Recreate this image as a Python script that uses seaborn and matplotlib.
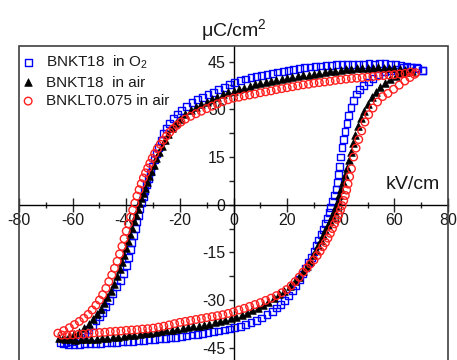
import matplotlib
matplotlib.use("Agg")
import matplotlib.pyplot as plt
import seaborn as sns
import pandas as pd
from matplotlib.patches import Rectangle
from matplotlib.ticker import MultipleLocator

# ---------------- data ----------------
labels = ["BNKT18  in O$_2$", "BNKT18  in air", "BNKLT0.075 in air"]

# BNKT18 in O2 -- upper branch (E decreasing)
o2_up_E = [70.5, 68.5, 66.5, 64.5, 62.5, 60.5, 58.5, 56.5, 54.5, 52.5, 50.5, 48.5, 46.5,
           44.5, 42.5, 40.5, 38.5, 36.5, 34.5, 32.5, 30.5, 28.5, 26.5, 24.5, 22.5, 20.5,
           18.5, 16.5, 14.5, 12.5, 10.5, 8.5, 6.5, 4.5, 2.5, 0.5, -1.5, -3.5, -5.5, -7.5,
           -9.5, -11.5, -13.5, -15.5, -17.5, -19.5, -21, -22.5, -24, -25, -26, -27, -28,
           -28.8, -29.6, -30.4, -31.1, -31.8, -32.5, -33.1, -33.7, -34.3, -34.9, -35.5,
           -36.1, -36.7, -37.3, -37.9, -38.5, -39.2, -40, -41, -42.2, -43.5, -45, -46.3,
           -47.6, -48.8, -50, -51.3, -52.6, -54, -55.5, -57, -58.7, -60.5, -62.5, -64.5]
o2_up_P = [42.3, 42.8, 43.2, 43.5, 43.8, 44, 44.2, 44.3, 44.3, 44.2, 44.3, 44.2, 44.2,
           44.1, 44.2, 44.1, 44, 43.9, 43.8, 43.6, 43.5, 43.3, 43.1, 42.9, 42.6, 42.3, 42,
           41.7, 41.3, 40.9, 40.6, 40.3, 39.9, 39.5, 39, 38.4, 37.7, 36.9, 36.1, 35.4, 34.6,
           33.8, 33.1, 32.2, 31, 29.6, 28.5, 27.1, 25.5, 24, 22.3, 20.2, 18, 16.2, 14.2,
           12.2, 10.3, 8.3, 6.4, 4.5, 2.6, 0.6, -1.3, -3.3, -5.4, -7.5, -9.6, -11.8, -14,
           -16.5, -19, -21.7, -23.8, -25.6, -28, -30, -32, -33.8, -35.2, -36.5, -37.9,
           -39.2, -40.5, -41.6, -42.5, -43, -43.3, -43.3]
# BNKT18 in O2 -- lower branch (E increasing)
o2_lo_E = [-63.5, -61.5, -59.5, -57.5, -55.5, -53.5, -51.5, -49.5, -47.5, -45.5, -43.5,
           -41.5, -39.5, -37.5, -35.5, -33.5, -31.5, -29.5, -27.5, -25.5, -23.5, -21.5,
           -19.5, -17.5, -15.5, -13.5, -11.5, -9.5, -7.5, -5.5, -3.5, -1.5, 0.5, 2.5, 4.5,
           6.5, 8.5, 10.5, 12.5, 14.5, 16, 17.5, 19, 20.5, 22, 23.3, 24.6, 25.8, 27, 28,
           29, 30, 30.9, 31.8, 32.6, 33.4, 34.2, 34.9, 35.6, 36.3, 37, 37.6, 38.2, 38.7,
           39.2, 39.6, 40, 40.5, 41, 41.6, 42.3, 43, 43.8, 44.7, 45.8, 47, 48.5, 50.2, 52,
           54, 56.3, 58.6, 61, 63.5, 66, 68.3, 70.5]
o2_lo_P = [-43.8, -43.9, -43.9, -43.9, -43.8, -43.8, -43.7, -43.6, -43.5, -43.4, -43.3,
           -43.2, -43.1, -42.9, -42.8, -42.7, -42.5, -42.3, -42.1, -42, -41.8, -41.7,
           -41.5, -41.3, -41, -40.8, -40.5, -40.2, -40, -39.7, -39.4, -39.1, -38.7, -38.2,
           -37.7, -37.1, -36.4, -35.6, -34.6, -33.5, -32.5, -31.3, -30, -28.5, -26.9,
           -25.3, -23.6, -21.8, -19.9, -18.2, -16.5, -14.7, -12.9, -11.1, -9.4, -7.8, -6,
           -4.3, -2.5, -0.8, 1.1, 2.9, 4.8, 6.9, 9.5, 12, 15, 18, 20.5, 23, 25.5, 28, 30.5,
           32.8, 34.8, 36.3, 37.5, 38.6, 39.8, 40.8, 41.7, 42.3, 42.7, 43.1, 43.3, 43.2,
           42.3]

# BNKT18 in air
air_up_E = [66, 64, 62, 60, 58, 56, 54, 52, 50, 48, 46, 44, 42, 40, 38, 36, 34, 32, 30,
            28, 26, 24, 22, 20, 18, 16, 14, 12, 10, 8, 6, 4, 2, 0, -2, -4, -6, -8, -10,
            -12, -14, -16, -18, -20, -21.5, -23, -24.4, -25.6, -26.8, -27.9, -28.9,
            -29.8, -30.6, -31.4, -32.2, -33, -33.7, -34.4, -35.1, -35.8, -36.5, -37.2,
            -37.9, -38.6, -39.3, -40, -40.8, -41.6, -42.5, -43.5, -44.6, -45.8, -47,
            -48.3, -49.6, -51, -52.5, -54, -55.7, -57.5, -59.5, -61.5, -63.5, -65]
air_up_P = [42, 42.4, 42.8, 43, 43, 43.1, 43.2, 43.1, 43, 43, 42.9, 42.7, 42.6, 42.4,
            42.2, 42, 41.8, 41.5, 41.2, 40.9, 40.7, 40.4, 40.1, 39.9, 39.6, 39.2, 38.8,
            38.5, 38.2, 37.8, 37.3, 36.8, 36.3, 35.8, 35.3, 34.7, 34, 33.2, 32.4, 31.6,
            30.7, 29.7, 28.5, 27, 25.7, 24.1, 22.3, 20.5, 18.6, 16.6, 14.6, 12.6, 10.7,
            8.9, 7.1, 5.3, 3.6, 2, 0.4, -1.3, -3.2, -5.2, -7.3, -9.3, -11.4, -13.5, -15.7,
            -17.9, -20.2, -22.5, -24.8, -27, -29, -31, -32.8, -34.5, -36.1, -37.5, -38.8,
            -39.9, -40.8, -41.4, -41.8, -42]
air_lo_E = [-63, -61, -59, -57, -55, -53, -51, -49, -47, -45, -43, -41, -39, -37, -35,
            -33, -31, -29, -27, -25, -23, -21, -19, -17, -15, -13, -11, -9, -7, -5, -3,
            -1, 1, 3, 5, 7, 9, 11, 13, 15, 17, 19, 21, 23, 24.6, 26, 27.3, 28.5, 29.6,
            30.6, 31.6, 32.5, 33.4, 34.3, 35.1, 35.9, 36.7, 37.4, 38.1, 38.8, 39.5, 40.2,
            40.9, 41.6, 42.3, 43, 43.8, 44.6, 45.5, 46.5, 47.6, 48.8, 50.1, 51.5, 53, 54.7,
            56.5, 58.5, 60.5, 62.5, 64.5, 66.5]
air_lo_P = [-42.2, -42.3, -42.4, -42.3, -42.3, -42.2, -42.1, -41.9, -41.8, -41.7, -41.5,
            -41.3, -41.1, -40.9, -40.7, -40.5, -40.3, -40, -39.8, -39.5, -39.3, -39.1,
            -38.9, -38.6, -38.3, -38, -37.7, -37.4, -37, -36.6, -36.2, -35.7, -35.2, -34.6,
            -34, -33.2, -32.4, -31.5, -30.5, -29.4, -28.2, -27, -25.6, -24.1, -22.6, -21,
            -19.3, -17.6, -15.9, -14.3, -12.7, -11.1, -9.6, -8, -6.5, -5, -3.4, -1.9, -0.3,
            1.3, 3.1, 5, 7, 9.2, 11.6, 14, 16.6, 19.3, 22, 24.7, 27.2, 29.6, 31.8, 33.8,
            35.5, 37, 38.3, 39.5, 40.5, 41.3, 41.8, 42]

# BNKLT0.075 in air
la_up_E = [68, 66, 64, 62, 60, 58, 56, 54, 52, 50, 48, 46, 44, 42, 40, 38, 36, 34, 32, 30,
           28, 26, 24, 22, 20, 18, 16, 14, 12, 10, 8, 6, 4, 2, 0, -2, -4, -6, -8, -10, -12,
           -14, -16, -18, -19.6, -21.1, -22.5, -23.8, -25, -26.2, -27.3, -28.4, -29.4,
           -30.3, -31.2, -32, -32.8, -33.6, -34.4, -35.2, -36, -36.8, -37.6, -38.4, -39.2,
           -40, -40.8, -41.6, -42.5, -43.4, -44.4, -45.4, -46.5, -47.6, -48.8, -50, -51.3,
           -52.7, -54.2, -55.8, -57.5, -59.3, -61.2, -63.3, -65.5]
la_up_P = [41.5, 41.7, 41.3, 41.1, 40.9, 40.8, 40.6, 40.5, 40.3, 40.1, 40, 39.8, 39.7,
           39.5, 39.3, 39.1, 38.8, 38.6, 38.4, 38.2, 37.9, 37.7, 37.4, 37.1, 36.8, 36.5,
           36.2, 35.8, 35.5, 35.2, 34.8, 34.5, 34.2, 33.8, 33.5, 33, 32.4, 31.7, 31, 30.2,
           29.4, 28.6, 27.8, 26.9, 26, 25, 23.9, 22.8, 21.6, 20.3, 19, 17.6, 16.1, 14.6, 13,
           11.5, 10, 8.4, 6.6, 4.7, 2.7, 0.5, -1.7, -3.9, -6, -8.3, -10.7, -13.1, -15.5,
           -17.8, -20, -22.1, -24.2, -26.3, -28.3, -30, -31.6, -33.1, -34.5, -35.7, -36.7,
           -37.7, -38.7, -39.6, -40.4]
la_lo_E = [-64, -62, -60, -58, -56, -54, -52, -50, -48, -46, -44, -42, -40, -38, -36, -34,
           -32, -30, -28, -26, -24, -22, -20, -18, -16, -14, -12, -10, -8, -6, -4, -2, 0,
           2, 4, 6, 8, 10, 12, 14, 16, 18, 19.8, 21.5, 23, 24.5, 26, 27.4, 28.7, 30, 31.2,
           32.3, 33.3, 34.3, 35.2, 36.1, 36.9, 37.7, 38.5, 39.2, 39.9, 40.5, 41.1, 41.7,
           42.2, 42.7, 43.3, 44, 44.8, 45.7, 46.7, 47.8, 49, 50.4, 52, 53.7, 55.6, 57.6,
           59.7, 61.8, 63.9, 65.8, 67.5]
la_lo_P = [-41, -41, -40.9, -40.8, -40.7, -40.5, -40.3, -40.2, -40.1, -39.9, -39.8,
           -39.7, -39.5, -39.4, -39.3, -39.1, -39, -38.8, -38.5, -38.2, -37.8, -37.4, -37,
           -36.7, -36.4, -36.1, -35.8, -35.5, -35.2, -34.9, -34.6, -34.2, -33.7, -33.1,
           -32.6, -32, -31.4, -30.8, -30.1, -29.4, -28.6, -27.7, -26.7, -25.5, -24.2,
           -22.8, -21.2, -19.9, -18.6, -17.4, -16, -14.6, -13.2, -11.9, -10.5, -9, -7.5,
           -6, -4.6, -3.2, -1.7, -0.3, 1.3, 2.9, 4.6, 6.5, 8.8, 11.3, 15, 17.8, 20.5, 23.2,
           26, 28.3, 30.4, 32.3, 34, 35, 36.3, 37.6, 38.9, 40, 41]

x_ticks = [-80, -60, -40, -20, 0, 20, 40, 60, 80]
y_ticks = [-45, -30, -15, 0, 15, 30, 45]

# ---------------- styling ----------------
sns.set_style("ticks")
plt.rcParams["font.family"] = ["Liberation Sans", "DejaVu Sans"]
plt.rcParams["mathtext.fontset"] = "custom"
plt.rcParams["mathtext.rm"] = "Liberation Sans"
plt.rcParams["mathtext.it"] = "Liberation Sans"
txt = "#1a1a1a"

fig = plt.figure(figsize=(4.57, 3.6), dpi=100)
W, H = 457, 360
ax = fig.add_axes([19 / W, (360 - 363.7) / H, 429 / W, 318 / H])

series = [
    (o2_up_E + o2_lo_E, o2_up_P + o2_lo_P, dict(marker="s", s=24, fc="none", ec="#0000ff", lw=1.0)),
    (air_up_E + air_lo_E, air_up_P + air_lo_P, dict(marker="^", s=30, fc="black", ec="black", lw=0.5)),
    (la_up_E + la_lo_E, la_up_P + la_lo_P, dict(marker="o", s=30, fc="none", ec="#ff2020", lw=1.0)),
]
for (E, P, st), lab in zip(series, labels):
    df = pd.DataFrame({"E": E, "P": P})
    sns.scatterplot(data=df, x="E", y="P", ax=ax, marker=st["marker"], s=st["s"],
                    facecolor=st["fc"], edgecolor=st["ec"], linewidth=st["lw"],
                    label=lab, zorder=3, legend=False)

ax.set_xlim(-80, 80)
ax.set_ylim(-50, 50)
ax.set_xlabel("")
ax.set_ylabel("")

# centred axes + surrounding box
ax.spines["left"].set_position(("data", 0))
ax.spines["bottom"].set_position(("data", 0))
ax.spines["right"].set_visible(False)
ax.spines["top"].set_visible(False)
for sp in ("left", "bottom"):
    ax.spines[sp].set_linewidth(1.0)
    ax.spines[sp].set_color("black")
ax.add_patch(Rectangle((0, 0), 1, 1, transform=ax.transAxes, fill=False,
                       lw=1.2, ec="#404040", clip_on=False, zorder=4))

ax.set_xticks(x_ticks)
ax.set_yticks(y_ticks)
ax.set_xticklabels([str(v) for v in x_ticks])
ax.set_yticklabels([str(v) for v in y_ticks])
ax.xaxis.set_minor_locator(MultipleLocator(10))
ax.yaxis.set_minor_locator(MultipleLocator(7.5))
ax.tick_params(axis="x", which="major", direction="inout", length=9.5, width=1.0,
               labelsize=11.5, labelcolor=txt, pad=1.5)
ax.tick_params(axis="x", which="minor", direction="inout", length=4, width=1.0)
ax.tick_params(axis="y", which="major", direction="out", length=3.6, width=1.0,
               labelsize=11.5, labelcolor=txt, pad=2)
ax.tick_params(axis="y", which="minor", direction="out", length=3.6, width=1.0)

ax.text(67, 6.3, "kV/cm", ha="center", va="center", fontsize=14, color=txt)
fig.text(234 / W, 1 - 30 / H, "μC/cm$^2$", ha="center", va="center", fontsize=14,
         color=txt)

leg = ax.legend(loc="upper left", bbox_to_anchor=(0.0, 0.985), frameon=False,
                fontsize=11, handlelength=0.8, handletextpad=0.75, labelspacing=0.3,
                borderaxespad=0, borderpad=0.2, scatterpoints=1)
for t in leg.get_texts():
    t.set_color(txt)

fig.savefig("out.png", dpi=100)
